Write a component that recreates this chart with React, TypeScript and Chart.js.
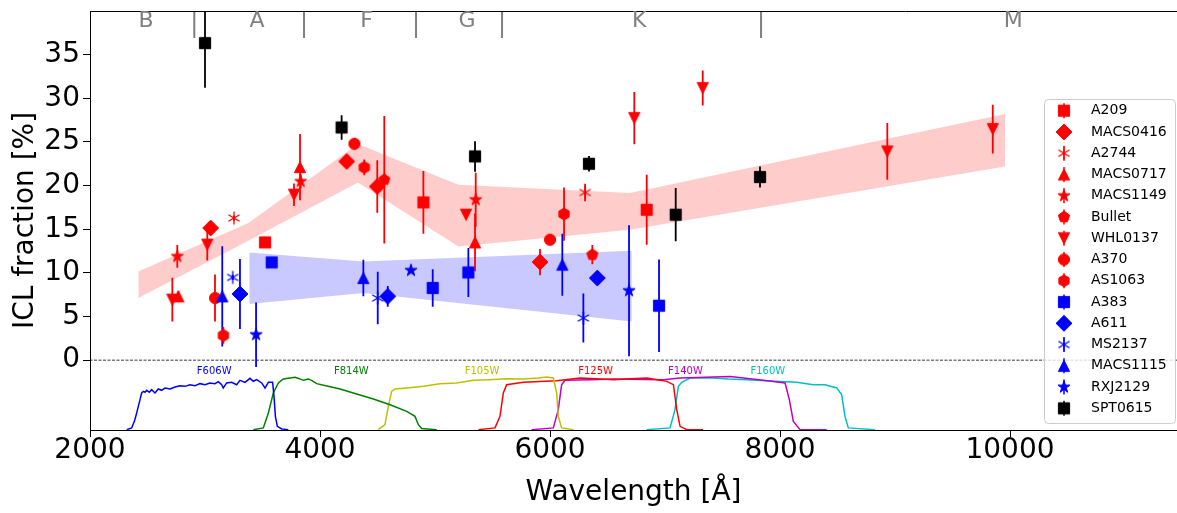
import React, { useEffect, useRef } from 'react';
import { Chart, registerables } from 'chart.js';

Chart.register(...registerables);

const FONT = "'DejaVu Sans', 'Liberation Sans', sans-serif";

// ---------- axes ----------
const X_MIN = 2000;
const X_MAX = 11452;
const Y_MIN = -8;
const Y_MAX = 40;
const X_TICKS = [2000, 4000, 6000, 8000, 10000];
const Y_TICKS = [0, 5, 10, 15, 20, 25, 30, 35];

// ---------- spectral type labels on top ----------
const SPEC_TYPES = ['B', 'A', 'F', 'G', 'K', 'M'];
const SPEC_LABEL_WL = [2487, 3452, 4405, 5278, 6776, 10029];
const SPEC_EDGES_WL = [2907, 3861, 4835, 5583, 7835];

// ---------- cluster measurements (wavelength [A], ICL fraction [%], error) ----------
const A209_WL = [3522, 4899, 6841];
const A209_ICL = [13.49, 18.07, 17.23];
const A209_ERR = [0.4, 3.6, 4.0];

const MACS0416_WL = [3049, 4232, 4498, 5913];
const MACS0416_ICL = [15.14, 22.76, 19.9, 11.24];
const MACS0416_ERR = [0.5, 0.4, 3.0, 1.5];

const A2744_WL = [3252, 6305];
const A2744_ICL = [16.28, 19.21];
const A2744_ERR = [0.3, 1.0];

const MACS0717_WL = [2768, 3826, 5348];
const MACS0717_ICL = [7.31, 22.12, 13.49];
const MACS0717_ERR = [0.6, 3.8, 3.3];

const MACS1149_WL = [2759, 3832, 5354];
const MACS1149_ICL = [11.89, 20.47, 18.38];
const MACS1149_ERR = [1.3, 0.8, 3.1];

const BULLET_WL = [4559, 6368];
const BULLET_ICL = [20.67, 12.08];
const BULLET_ERR = [7.3, 1.1];

const WHL0137_WL = [2716, 3020, 3774, 5270, 6733, 7328, 8933, 9850];
const WHL0137_ICL = [6.93, 13.23, 18.95, 16.66, 27.73, 31.17, 23.91, 26.47];
const WHL0137_ERR = [2.5, 1.8, 1.3, 0.4, 3.0, 2.0, 3.25, 2.8];

const A370_WL = [3087, 4299, 6000];
const A370_ICL = [7.12, 24.79, 13.8];
const A370_ERR = [2.7, 0.3, 0.3];

const AS1063_WL = [3160, 4385, 6122];
const AS1063_ICL = [2.84, 22.08, 16.74];
const AS1063_ERR = [0.95, 0.9, 3.05];

const A383_WL = [3580, 4980, 5290, 6948];
const A383_ICL = [11.2, 8.27, 10.05, 6.24];
const A383_ERR = [0.5, 2.15, 2.8, 5.3];

const A611_WL = [3304, 4589, 6411];
const A611_ICL = [7.58, 7.31, 9.41];
const A611_ERR = [4.0, 1.2, 0.3];

const MS2137_WL = [3241, 4502, 6290];
const MS2137_ICL = [9.48, 7.12, 4.83];
const MS2137_ERR = [0.3, 3.0, 2.8];

const MACS1115_WL = [3150, 4377, 6107];
const MACS1115_ICL = [7.31, 9.41, 10.94];
const MACS1115_ERR = [5.75, 2.1, 3.55];

const RXJ2129_WL = [3444, 4791, 6687];
const RXJ2129_ICL = [2.92, 10.28, 7.96];
const RXJ2129_ERR = [3.7, 0.2, 7.5];

const SPT0615_WL = [3000, 4188, 5348, 6339, 7093, 7826];
const SPT0615_ICL = [36.32, 26.66, 23.34, 22.5, 16.66, 20.98];
const SPT0615_ERR = [5.1, 1.4, 1.75, 0.9, 3.05, 1.2];

// ---------- shaded bands ----------
const RED_BAND_WL = [2420, 3377, 4330, 5203, 6696, 9957];
const RED_BAND_HI = [10.17, 15.71, 24.75, 20.1, 19.15, 28.19];
const RED_BAND_LO = [7.12, 13.68, 20.36, 13.03, 14.94, 22.19];
const BLUE_BAND_WL = [3385, 4377, 6711];
const BLUE_BAND_HI = [12.34, 11.31, 12.54];
const BLUE_BAND_LO = [6.44, 7.69, 4.44];

// ---------- filter transmission curves (plotted below zero) ----------
const F606W_WL = [2319, 2362, 2386, 2406, 2420, 2435, 2449, 2464, 2478, 2493, 2516, 2536, 2565, 2594, 2623, 2652, 2696, 2739, 2783, 2826, 2870, 2913, 2957, 3000, 3043, 3087, 3116, 3145, 3159, 3188, 3232, 3275, 3304, 3348, 3391, 3420, 3449, 3493, 3522, 3551, 3588, 3600, 3612, 3629, 3667, 3725];
const F606W_T = [-7.96, -7.77, -7.01, -6.05, -5.29, -4.52, -3.76, -3.57, -3.68, -3.45, -3.68, -3.38, -3.76, -3.3, -3.45, -3.19, -3.3, -3.07, -2.92, -3.0, -2.81, -2.92, -2.69, -2.81, -2.61, -2.69, -2.46, -2.81, -3.19, -2.61, -2.54, -2.81, -2.31, -2.54, -2.08, -2.42, -2.23, -2.61, -3.19, -2.54, -2.54, -4.14, -6.43, -7.58, -7.88, -7.96];

const F814W_WL = [3420, 3507, 3551, 3594, 3638, 3681, 3740, 3783, 3820, 3855, 3899, 3930, 3971, 4070, 4174, 4319, 4464, 4609, 4754, 4826, 4855, 4884, 5015];
const F814W_T = [-7.96, -7.76, -6.05, -3.76, -2.61, -2.15, -2.04, -1.97, -2.12, -2.31, -2.15, -2.35, -2.69, -3.0, -3.3, -3.87, -4.44, -5.1, -5.86, -6.44, -7.39, -7.84, -7.96];

const F105W_WL = [4507, 4565, 4594, 4623, 4652, 4754, 4899, 5043, 5188, 5333, 5478, 5623, 5768, 5900, 5971, 6029, 6058, 6072, 6101, 6203];
const F105W_T = [-7.96, -7.39, -5.29, -3.57, -3.3, -3.18, -3.0, -2.69, -2.61, -2.31, -2.23, -2.12, -2.15, -2.04, -1.92, -2.04, -3.76, -6.44, -7.76, -7.96];

const F125W_WL = [5377, 5522, 5565, 5594, 5623, 5768, 6058, 6261, 6400, 6551, 6700, 6841, 7015, 7073, 7102, 7131, 7189, 7331];
const F125W_T = [-7.96, -7.76, -6.44, -3.76, -2.81, -2.54, -2.35, -2.04, -2.12, -2.23, -2.12, -2.04, -2.43, -2.81, -5.67, -7.58, -7.96, -7.96];

const F140W_WL = [5840, 6029, 6072, 6101, 6130, 6348, 6551, 6986, 7131, 7350, 7566, 7855, 8044, 8081, 8116, 8174, 8406];
const F140W_T = [-7.96, -7.76, -5.67, -2.81, -2.31, -2.23, -2.15, -2.23, -2.04, -1.95, -1.86, -2.31, -2.61, -4.52, -7.01, -7.96, -7.96];

const F160W_WL = [6841, 7044, 7087, 7116, 7145, 7218, 7421, 7550, 7711, 8000, 8145, 8290, 8391, 8493, 8536, 8565, 8594, 8826];
const F160W_T = [-7.96, -7.76, -5.67, -3.0, -2.54, -2.04, -2.04, -2.15, -2.23, -2.43, -2.54, -2.81, -2.81, -3.18, -3.95, -6.44, -7.76, -7.96];

const FILTER_NAMES = ['F606W', 'F814W', 'F105W', 'F125W', 'F140W', 'F160W'];
const FILTER_LABEL_WL = [3080, 4272, 5409, 6396, 7178, 7894];

// ---------- styles ----------
const RED = '#ff0000';
const BLUE = '#0000ff';
const BLACK = '#000000';

type Series = { name: string; color: string; marker: string; wl: number[]; icl: number[]; err: number[] };

const SERIES: Series[] = [
  { name: 'A209', color: RED, marker: 's', wl: A209_WL, icl: A209_ICL, err: A209_ERR },
  { name: 'MACS0416', color: RED, marker: 'D', wl: MACS0416_WL, icl: MACS0416_ICL, err: MACS0416_ERR },
  { name: 'A2744', color: RED, marker: 'a', wl: A2744_WL, icl: A2744_ICL, err: A2744_ERR },
  { name: 'MACS0717', color: RED, marker: '^', wl: MACS0717_WL, icl: MACS0717_ICL, err: MACS0717_ERR },
  { name: 'MACS1149', color: RED, marker: '*', wl: MACS1149_WL, icl: MACS1149_ICL, err: MACS1149_ERR },
  { name: 'Bullet', color: RED, marker: 'p', wl: BULLET_WL, icl: BULLET_ICL, err: BULLET_ERR },
  { name: 'WHL0137', color: RED, marker: 'v', wl: WHL0137_WL, icl: WHL0137_ICL, err: WHL0137_ERR },
  { name: 'A370', color: RED, marker: 'o', wl: A370_WL, icl: A370_ICL, err: A370_ERR },
  { name: 'AS1063', color: RED, marker: 'h', wl: AS1063_WL, icl: AS1063_ICL, err: AS1063_ERR },
  { name: 'A383', color: BLUE, marker: 's', wl: A383_WL, icl: A383_ICL, err: A383_ERR },
  { name: 'A611', color: BLUE, marker: 'D', wl: A611_WL, icl: A611_ICL, err: A611_ERR },
  { name: 'MS2137', color: BLUE, marker: 'a', wl: MS2137_WL, icl: MS2137_ICL, err: MS2137_ERR },
  { name: 'MACS1115', color: BLUE, marker: '^', wl: MACS1115_WL, icl: MACS1115_ICL, err: MACS1115_ERR },
  { name: 'RXJ2129', color: BLUE, marker: '*', wl: RXJ2129_WL, icl: RXJ2129_ICL, err: RXJ2129_ERR },
  { name: 'SPT0615', color: BLACK, marker: 's', wl: SPT0615_WL, icl: SPT0615_ICL, err: SPT0615_ERR },
];

const FILTERS = [
  { color: '#0000ff', wl: F606W_WL, t: F606W_T },
  { color: '#008000', wl: F814W_WL, t: F814W_T },
  { color: '#bfbf00', wl: F105W_WL, t: F105W_T },
  { color: '#ff0000', wl: F125W_WL, t: F125W_T },
  { color: '#bf00bf', wl: F140W_WL, t: F140W_T },
  { color: '#00bfbf', wl: F160W_WL, t: F160W_T },
];

function polygon(ctx: CanvasRenderingContext2D, cx: number, cy: number, r: number, n: number) {
  for (let k = 0; k < n; k++) {
    const a = -Math.PI / 2 + (k * 2 * Math.PI) / n;
    const px = cx + r * Math.cos(a);
    const py = cy + r * Math.sin(a);
    if (k === 0) ctx.moveTo(px, py);
    else ctx.lineTo(px, py);
  }
  ctx.closePath();
}

function makeMarker(shape: string, color: string): HTMLCanvasElement {
  const c = document.createElement('canvas');
  c.width = 24;
  c.height = 24;
  const ctx = c.getContext('2d') as CanvasRenderingContext2D;
  const m = 12;
  const S = 11.2;
  const h = S / 2;
  ctx.fillStyle = color;
  ctx.strokeStyle = color;
  ctx.lineWidth = 1;
  ctx.lineJoin = 'miter';
  ctx.beginPath();
  if (shape === 's') {
    ctx.rect(m - h, m - h, S, S);
  } else if (shape === 'D') {
    const d = S * Math.SQRT1_2;
    ctx.moveTo(m, m - d);
    ctx.lineTo(m + d, m);
    ctx.lineTo(m, m + d);
    ctx.lineTo(m - d, m);
    ctx.closePath();
  } else if (shape === '^') {
    ctx.moveTo(m, m - h);
    ctx.lineTo(m + h, m + h);
    ctx.lineTo(m - h, m + h);
    ctx.closePath();
  } else if (shape === 'v') {
    ctx.moveTo(m, m + h);
    ctx.lineTo(m + h, m - h);
    ctx.lineTo(m - h, m - h);
    ctx.closePath();
  } else if (shape === 'o') {
    ctx.arc(m, m, h, 0, Math.PI * 2);
  } else if (shape === 'p') {
    polygon(ctx, m, m, h + 0.3, 5);
  } else if (shape === 'h') {
    polygon(ctx, m, m, h + 0.3, 6);
  } else if (shape === '*') {
    const R = h + 0.8;
    const r = R * 0.382;
    for (let k = 0; k < 10; k++) {
      const a = -Math.PI / 2 + (k * Math.PI) / 5;
      const rr = k % 2 === 0 ? R : r;
      const px = m + rr * Math.cos(a);
      const py = m + rr * Math.sin(a);
      if (k === 0) ctx.moveTo(px, py);
      else ctx.lineTo(px, py);
    }
    ctx.closePath();
  } else if (shape === 'a') {
    const L = h + 0.8;
    for (let k = 0; k < 3; k++) {
      const a = -Math.PI / 2 + (k * Math.PI) / 3;
      ctx.moveTo(m + L * Math.cos(a), m + L * Math.sin(a));
      ctx.lineTo(m - L * Math.cos(a), m - L * Math.sin(a));
    }
    ctx.lineWidth = 1.3;
    ctx.stroke();
    return c;
  }
  ctx.fill();
  ctx.stroke();
  return c;
}

export default function App() {
  const ref = useRef<HTMLCanvasElement | null>(null);

  useEffect(() => {
    const canvas = ref.current;
    if (!canvas) return;
    const markers = SERIES.map((s) => makeMarker(s.marker, s.color));
    const pts = (xs: number[], ys: number[]) => xs.map((x, i) => ({ x, y: ys[i] }));
    const datasets: any[] = [];
    const bandBase = { borderWidth: 0, borderColor: 'rgba(0,0,0,0)', pointRadius: 0, tension: 0 };

    datasets.push({ ...bandBase, data: pts(RED_BAND_WL, RED_BAND_HI), fill: '+1', backgroundColor: 'rgba(255,0,0,0.2)', order: 100 });
    datasets.push({ ...bandBase, data: pts(RED_BAND_WL, RED_BAND_LO), fill: false, order: 100 });
    datasets.push({ ...bandBase, data: pts(BLUE_BAND_WL, BLUE_BAND_HI), fill: '+1', backgroundColor: 'rgba(0,0,255,0.21)', order: 100 });
    datasets.push({ ...bandBase, data: pts(BLUE_BAND_WL, BLUE_BAND_LO), fill: false, order: 100 });

    FILTERS.forEach((f) =>
      datasets.push({ data: pts(f.wl, f.t), borderColor: f.color, borderWidth: 1.5, pointRadius: 0, fill: false, tension: 0, order: 90 })
    );

    datasets.push({
      data: [{ x: 0, y: 0 }, { x: 20000, y: 0 }],
      borderColor: '#000', borderWidth: 0.8, borderDash: [3, 1.5], pointRadius: 0, fill: false, order: 80,
    });

    const sep: any[] = [];
    SPEC_EDGES_WL.forEach((x) => sep.push({ x, y: 36.9 }, { x, y: 41 }, { x, y: null }));
    datasets.push({ data: sep, borderColor: '#808080', borderWidth: 2, pointRadius: 0, spanGaps: false, fill: false, order: 80 });

    SERIES.forEach((s) => {
      const d: any[] = [];
      s.wl.forEach((x, i) => d.push({ x, y: s.icl[i] - s.err[i] }, { x, y: s.icl[i] + s.err[i] }, { x, y: null }));
      datasets.push({ data: d, borderColor: s.color, borderWidth: 1.8, pointRadius: 0, spanGaps: false, fill: false, order: 50 });
    });

    SERIES.forEach((s, i) =>
      datasets.push({
        data: pts(s.wl, s.icl), showLine: false, pointStyle: markers[i], pointRadius: 6,
        borderColor: s.color, backgroundColor: s.color, order: 40 - i,
      })
    );

    const decor = {
      id: 'decor',
      afterDatasetsDraw(chart: any) {
        const { ctx, chartArea, scales } = chart;
        const xs = scales.x;
        const ys = scales.y;
        ctx.save();
        // top spine
        ctx.strokeStyle = '#000';
        ctx.lineWidth = 1;
        ctx.beginPath();
        ctx.moveTo(chartArea.left, chartArea.top + 0.5);
        ctx.lineTo(chartArea.right, chartArea.top + 0.5);
        ctx.stroke();
        // spectral types
        ctx.font = `22px ${FONT}`;
        ctx.fillStyle = '#808080';
        ctx.textAlign = 'center';
        ctx.textBaseline = 'middle';
        SPEC_TYPES.forEach((t, i) => ctx.fillText(t, xs.getPixelForValue(SPEC_LABEL_WL[i]), ys.getPixelForValue(38.85)));
        // filter names
        ctx.font = `10px ${FONT}`;
        FILTER_NAMES.forEach((n, i) => {
          ctx.fillStyle = FILTERS[i].color;
          ctx.fillText(n, xs.getPixelForValue(FILTER_LABEL_WL[i]), ys.getPixelForValue(-1.28));
        });
        ctx.restore();
      },
      afterDraw(chart: any) {
        const { ctx, chartArea } = chart;
        const bx = chartArea.right - 133;
        const by = chartArea.top + 88;
        const bw = 131;
        const bh = 324;
        ctx.save();
        ctx.beginPath();
        if ((ctx as any).roundRect) (ctx as any).roundRect(bx + 0.5, by + 0.5, bw, bh, 4);
        else ctx.rect(bx + 0.5, by + 0.5, bw, bh);
        ctx.fillStyle = 'rgba(255,255,255,0.8)';
        ctx.fill();
        ctx.strokeStyle = '#cccccc';
        ctx.lineWidth = 1;
        ctx.stroke();
        ctx.font = `14px ${FONT}`;
        ctx.textAlign = 'left';
        ctx.textBaseline = 'middle';
        SERIES.forEach((s, i) => {
          const cy = by + 11.7 + i * 21.26;
          const mx = bx + 20;
          ctx.strokeStyle = s.color;
          ctx.lineWidth = 1.5;
          ctx.beginPath();
          ctx.moveTo(mx, cy - 7.5);
          ctx.lineTo(mx, cy + 7.5);
          ctx.stroke();
          ctx.drawImage(markers[i], mx - 12, cy - 12);
          ctx.fillStyle = '#000';
          ctx.fillText(s.name, bx + 47, cy);
        });
        ctx.restore();
      },
    };

    const chart = new Chart(canvas, {
      type: 'line',
      data: { datasets },
      options: {
        responsive: false,
        animation: false,
        events: [],
        layout: { autoPadding: false, padding: { top: 11, left: 0, right: 0, bottom: 0 } },
        plugins: { legend: { display: false }, tooltip: { enabled: false }, title: { display: false } },
        scales: {
          x: {
            type: 'linear',
            min: X_MIN,
            max: X_MAX,
            afterBuildTicks: (s: any) => { s.ticks = X_TICKS.map((v) => ({ value: v })); },
            afterFit: (s: any) => { s.height = 83; s.paddingLeft = 0; s.paddingRight = 0; },
            ticks: { font: { family: FONT, size: 28 }, color: '#000', padding: -3, maxRotation: 0, autoSkip: false, callback: (v: any) => String(v) },
            grid: { display: true, drawOnChartArea: false, drawTicks: true, tickLength: 7, color: '#000', lineWidth: 1 },
            border: { display: true, color: '#000', width: 1 },
            title: { display: true, text: 'Wavelength [Å]', color: '#000', font: { family: FONT, size: 28 }, padding: { top: 0, bottom: 3 } },
          },
          y: {
            type: 'linear',
            min: Y_MIN,
            max: Y_MAX,
            afterBuildTicks: (s: any) => { s.ticks = Y_TICKS.map((v) => ({ value: v })); },
            afterFit: (s: any) => { s.width = 90; s.paddingTop = 0; s.paddingBottom = 0; },
            ticks: { font: { family: FONT, size: 28 }, color: '#000', padding: 3, autoSkip: false, callback: (v: any) => String(v) },
            grid: { display: true, drawOnChartArea: false, drawTicks: true, tickLength: 7, color: '#000', lineWidth: 1 },
            border: { display: true, color: '#000', width: 1 },
            title: { display: true, text: 'ICL fraction [%]', color: '#000', font: { family: FONT, size: 28 }, padding: { top: 9, bottom: 0 } },
          },
        },
      } as any,
      plugins: [decor],
    });

    return () => chart.destroy();
  }, []);

  return (
    <div style={{ position: 'absolute', left: 0, top: 0, width: 1177, height: 513, background: '#fff' }}>
      <canvas ref={ref} width={1177} height={513} style={{ display: 'block' }} />
    </div>
  );
}
